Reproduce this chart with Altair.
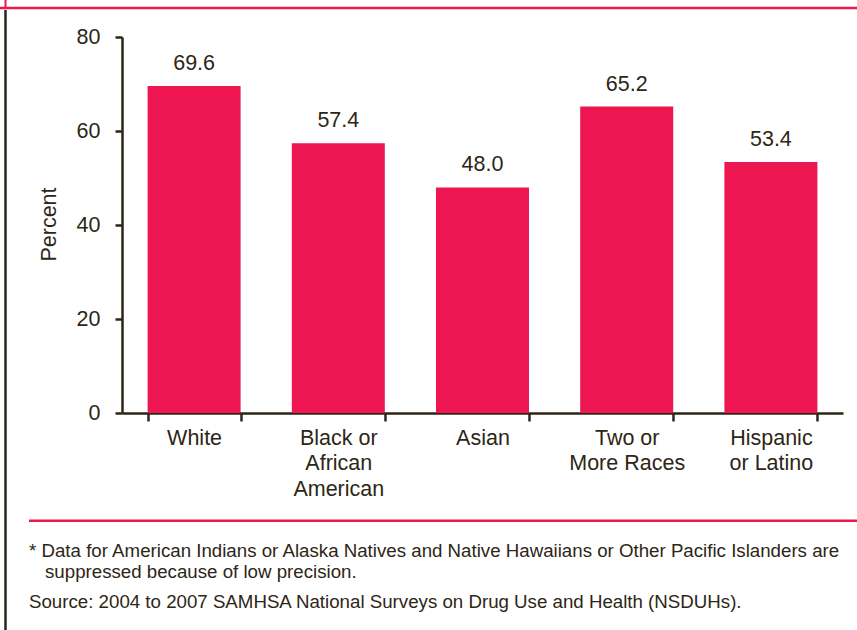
import altair as alt
import pandas as pd

# ---- data ----
categories = ["White", "Black or African American", "Asian", "Two or More Races", "Hispanic or Latino"]
label_lines = ["White", "Black or|African|American", "Asian", "Two or|More Races", "Hispanic|or Latino"]
values = [69.6, 57.4, 48.0, 65.2, 53.4]
y_ticks = [0, 20, 40, 60, 80]
y_title = "Percent"
footnote_lines = [
    "* Data for American Indians or Alaska Natives and Native Hawaiians or Other Pacific Islanders are",
    "suppressed because of low precision.",
    "Source: 2004 to 2007 SAMHSA National Surveys on Drug Use and Health (NSDUHs).",
]

BAR = "#ED1650"
DARK = "#2d2616"
FONT = "Liberation Sans"
FS = 21.5

df = pd.DataFrame({"category": categories, "label": label_lines, "value": values})

x_enc = alt.X(
    "label:N",
    sort=None,
    scale=alt.Scale(paddingInner=0.355, paddingOuter=0.1775),
    axis=alt.Axis(
        title=None,
        labelAngle=0,
        labelExpr="split(datum.label, '|')",
        labelFontSize=FS,
        labelLineHeight=25.5,
        labelPadding=6,
        tickBand="extent",
        tickSize=8,
        tickWidth=2.5,
        domainWidth=2.5,
    ),
)
y_enc = alt.Y(
    "value:Q",
    scale=alt.Scale(domain=[0, 80], nice=False),
    axis=alt.Axis(
        values=y_ticks,
        title=y_title,
        titleFontSize=FS,
        titleFontWeight="normal",
        titleAngle=-90,
        titleX=-73,
        titleY=187,
        titleAlign="center",
        titleBaseline="middle",
        labelFontSize=FS,
        labelPadding=15,
        tickSize=7,
        tickWidth=2.5,
        domainWidth=2.5,
        grid=False,
    ),
)

bars = alt.Chart(df).mark_bar(color=BAR).encode(x=x_enc, y=y_enc)
labels = alt.Chart(df).mark_text(
    fontSize=FS, font=FONT, color=DARK, baseline="alphabetic", dy=-16
).encode(x=alt.X("label:N", sort=None), y="value:Q", text=alt.Text("value:Q", format=".1f"))

one = alt.Data(values=[{}])

# decorative frame lines (relative to plot origin at 122, 37)
top_pink = alt.Chart(one).mark_rule(color=BAR, strokeWidth=2.5).encode(
    x=alt.value(-122), x2=alt.value(735), y=alt.value(-29), y2=alt.value(-29)
)
left_pink = alt.Chart(one).mark_rule(color=BAR, strokeWidth=2).encode(
    x=alt.value(-116.5), x2=alt.value(-116.5), y=alt.value(-37), y2=alt.value(-28)
)
left_dark = alt.Chart(one).mark_rule(color=DARK, strokeWidth=2.5).encode(
    x=alt.value(-116.5), x2=alt.value(-116.5), y=alt.value(-27), y2=alt.value(593)
)
foot_pink = alt.Chart(one).mark_rule(color=BAR, strokeWidth=2.5).encode(
    x=alt.value(-93), x2=alt.value(735), y=alt.value(483.7), y2=alt.value(483.7)
)

fn_df = pd.DataFrame({
    "text": footnote_lines,
    "px": [-93, -77, -93],
    "py": [519.5, 541, 571],
})
footnotes = alt.Chart(fn_df).mark_text(
    fontSize=18.7, font=FONT, color=DARK, align="left", baseline="alphabetic"
).encode(
    x=alt.X("px:Q", scale=None), y=alt.Y("py:Q", scale=None), text="text:N"
)

chart = alt.layer(
    bars, labels, top_pink, left_pink, left_dark, foot_pink, footnotes
).properties(
    width=721,
    height=376,
    autosize=alt.AutoSizeParams(type="none"),
    padding={"left": 122, "top": 37, "right": 14, "bottom": 217},
    background="white",
).configure_view(stroke=None).configure_axis(
    labelFont=FONT, titleFont=FONT, labelColor=DARK, titleColor=DARK,
    domainColor=DARK, tickColor=DARK,
).configure_text(font=FONT)

chart.save("out.html", embed_options={"renderer": "svg", "actions": False})
